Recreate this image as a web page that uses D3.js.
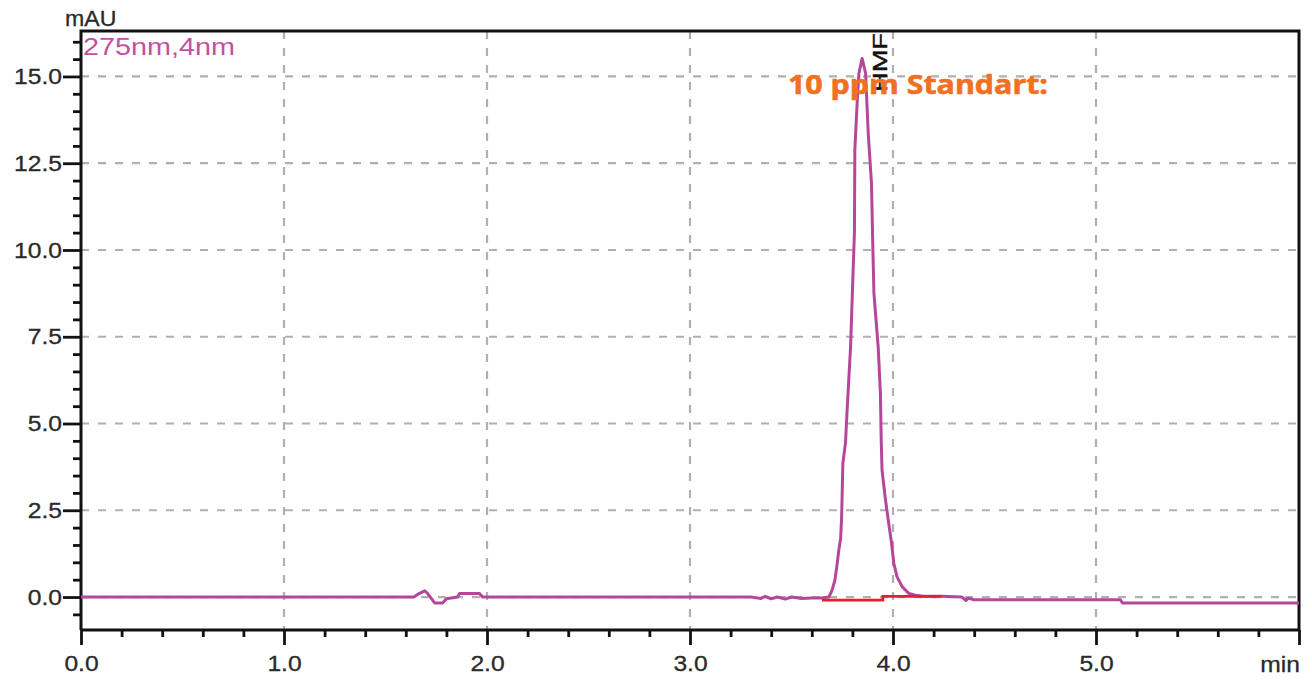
<!DOCTYPE html>
<html>
<head>
<meta charset="utf-8">
<script src="https://cdn.jsdelivr.net/npm/d3@7"></script>
<style>
html,body{margin:0;padding:0;background:#fff;}
svg{display:block;}
</style>
</head>
<body>
<svg id="chart" width="1312" height="682"></svg>
<script>
// ---- data ----
const retentionTimes = [
  0.00, 1.64, 1.665, 1.693, 1.705, 1.742, 1.781, 1.80, 1.855, 1.865, 1.963, 1.978,
  3.30, 3.35, 3.37, 3.40, 3.43, 3.47, 3.50, 3.55, 3.60, 3.65,
  3.684, 3.700, 3.714, 3.725, 3.733, 3.742, 3.747, 3.753, 3.766, 3.774, 3.791, 3.802,
  3.810, 3.812, 3.823, 3.832, 3.848, 3.865, 3.878, 3.894, 3.901, 3.906, 3.927, 3.938,
  3.942, 3.946, 3.963, 3.979, 3.993, 4.004, 4.020, 4.045, 4.078, 4.111, 4.15, 4.24,
  4.34, 4.36, 4.37, 4.40, 5.12, 5.13, 6.00
];
const absorbance = [
  0.00, 0.00, 0.10, 0.18, 0.12, -0.17, -0.17, -0.05, 0.00, 0.10, 0.10, 0.00,
  0.00, -0.04, 0.02, -0.05, 0.00, -0.06, 0.00, -0.04, -0.03, -0.03,
  0.00, 0.20, 0.49, 0.96, 1.35, 1.69, 2.31, 3.85, 4.45, 5.39, 7.21, 9.14,
  10.5, 12.88, 14.2, 15.09, 15.52, 15.09, 13.36, 11.92, 10.0, 8.76, 7.21, 5.87,
  4.5, 3.66, 2.8, 2.12, 1.55, 0.97, 0.58, 0.30, 0.10, 0.05, 0.02, 0.02,
  0.00, -0.10, -0.03, -0.08, -0.08, -0.17, -0.17
];
const baselineTimes = [3.65, 3.95, 3.95, 4.24];
const baselineValues = [-0.09, -0.09, 0.02, 0.02];
const xMajorTicks = [0, 1, 2, 3, 4, 5, 6];
const xTickLabels = ["0.0", "1.0", "2.0", "3.0", "4.0", "5.0", ""];
const yMajorTicks = [0, 2.5, 5, 7.5, 10, 12.5, 15];
const yTickLabels = ["0.0", "2.5", "5.0", "7.5", "10.0", "12.5", "15.0"];
const peakLabel = "HMF";
const peakTime = 3.848;
const channelLabel = "275nm,4nm";
const titleText = "10 ppm Standart:";

// ---- layout ----
const L = 81, R = 1299, T = 31, B = 630;
const svg = d3.select("#chart");
const x = d3.scaleLinear().domain([0, 6]).range([L, R]);
const y = d3.scaleLinear().domain([-0.95, 16.31]).range([B, T]);
const FONT = "'Liberation Sans', Arial, sans-serif";
const STRETCH = 1.12;

function stretch(sel, f) {
  sel.each(function () {
    const w = this.getComputedTextLength();
    if (w > 0) {
      d3.select(this).attr("textLength", w * f).attr("lengthAdjust", "spacingAndGlyphs");
    }
  });
}

// grid
const grid = svg.append("g").attr("stroke", "#b0b0b0").attr("stroke-width", 2.2)
  .attr("stroke-dasharray", "8,9");
grid.selectAll("line.h").data(yMajorTicks).join("line")
  .attr("x1", L).attr("x2", R).attr("y1", d => y(d)).attr("y2", d => y(d));
grid.selectAll("line.v").data(xMajorTicks.slice(1, 6)).join("line")
  .attr("y1", T).attr("y2", B).attr("x1", d => x(d)).attr("x2", d => x(d));

// axes
const yMinor = d3.range(-0.5, 16.01, 0.5).filter(v => Math.abs(v / 2.5 - Math.round(v / 2.5)) > 1e-6);
const xMinor = d3.range(0.2, 6, 0.2).filter(v => Math.abs(v - Math.round(v)) > 1e-6);

const yAxisMinor = svg.append("g").attr("transform", `translate(${L},0)`)
  .call(d3.axisLeft(y).tickValues(yMinor).tickSize(8).tickFormat(""));
const yAxis = svg.append("g").attr("transform", `translate(${L},0)`)
  .call(d3.axisLeft(y).tickValues(yMajorTicks).tickSize(18).tickPadding(1)
    .tickFormat((d, i) => yTickLabels[i]));
const xAxisMinor = svg.append("g").attr("transform", `translate(0,${B})`)
  .call(d3.axisBottom(x).tickValues(xMinor).tickSize(7).tickFormat(""));
const xAxis = svg.append("g").attr("transform", `translate(0,${B})`)
  .call(d3.axisBottom(x).tickValues(xMajorTicks).tickSize(15).tickPadding(10)
    .tickFormat((d, i) => xTickLabels[i]));

[yAxisMinor, yAxis, xAxisMinor, xAxis].forEach(g => {
  g.select(".domain").remove();
  g.selectAll(".tick line").attr("stroke", "#111").attr("stroke-width", 2.8);
  g.selectAll(".tick text").attr("fill", "#2a2a2a").attr("font-family", FONT)
    .attr("font-size", 22).attr("stroke", "#2a2a2a").attr("stroke-width", 0.3);
});
yAxis.selectAll(".tick text").call(stretch, STRETCH);
xAxis.selectAll(".tick text").call(stretch, STRETCH);

// frame
svg.append("path")
  .attr("d", `M${L},${B}V${T}H${R}V${B}H${L}`)
  .attr("fill", "none").attr("stroke", "#111").attr("stroke-width", 3);

// axis titles
svg.append("text").attr("x", 65).attr("y", 26).attr("font-family", FONT)
  .attr("font-size", 22).attr("fill", "#2a2a2a").attr("stroke", "#2a2a2a").attr("stroke-width", 0.3)
  .text("mAU").call(stretch, 1.05);
svg.append("text").attr("x", 1300).attr("y", 672).attr("text-anchor", "end")
  .attr("font-family", FONT).attr("font-size", 22).attr("fill", "#2a2a2a")
  .attr("stroke", "#2a2a2a").attr("stroke-width", 0.3)
  .text("min").call(stretch, STRETCH);

// channel label
svg.append("text").attr("x", 83).attr("y", 55).attr("font-family", FONT)
  .attr("font-size", 23).attr("fill", "#c4519e").text(channelLabel)
  .attr("textLength", 152).attr("lengthAdjust", "spacingAndGlyphs");

// trace
const pts = retentionTimes.map((t, i) => [t, absorbance[i]]);
const line = d3.line().x(d => x(d[0])).y(d => y(d[1]));
svg.append("path").datum(pts).attr("d", line)
  .attr("fill", "none").attr("stroke", "#b4479b").attr("stroke-width", 3)
  .attr("stroke-linejoin", "round");

// integration baseline
const bpts = baselineTimes.map((t, i) => [t, baselineValues[i]]);
svg.append("path").datum(bpts).attr("d", line)
  .attr("fill", "none").attr("stroke", "#e8202a").attr("stroke-width", 2.8);

// peak label (rotated)
const px = x(peakTime) + 25;
svg.append("text")
  .attr("transform", `translate(${px},92) rotate(-90)`)
  .attr("font-family", FONT).attr("font-size", 21).attr("fill", "#111")
  .attr("stroke", "#111").attr("stroke-width", 0.4)
  .text(peakLabel).attr("textLength", 59).attr("lengthAdjust", "spacingAndGlyphs");

// title
svg.append("text").attr("x", 788).attr("y", 94)
  .attr("font-family", "'Open Sans', Lato, sans-serif").attr("font-weight", "bold")
  .attr("font-size", 27).attr("fill", "#f07024").attr("stroke", "#f07024").attr("stroke-width", 0.6)
  .text(titleText)
  .attr("textLength", 260).attr("lengthAdjust", "spacingAndGlyphs");
</script>
</body>
</html>
